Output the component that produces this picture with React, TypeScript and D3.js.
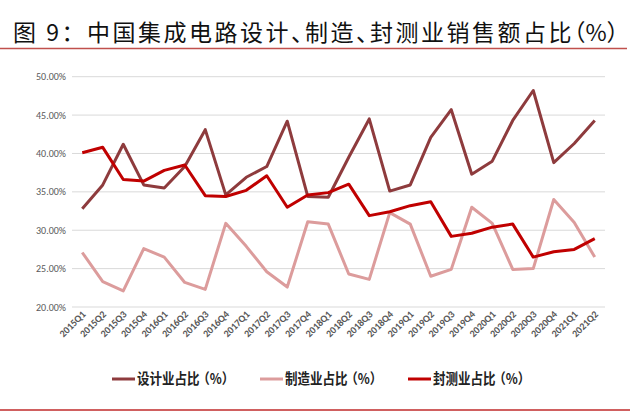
import * as React from 'react';
import * as d3 from 'd3';

const quarters = [
	'2015Q1', '2015Q2', '2015Q3', '2015Q4', '2016Q1', '2016Q2', '2016Q3', '2016Q4',
	'2017Q1', '2017Q2', '2017Q3', '2017Q4', '2018Q1', '2018Q2', '2018Q3', '2018Q4',
	'2019Q1', '2019Q2', '2019Q3', '2019Q4', '2020Q1', '2020Q2', '2020Q3', '2020Q4',
	'2021Q1', '2021Q2',
];

const design = [
	32.8, 35.9, 41.2, 35.9, 35.5, 38.3, 43.1, 34.6, 36.9, 38.3, 44.2, 34.4, 34.3,
	39.5, 44.5, 35.1, 35.9, 42.1, 45.7, 37.3, 39.0, 44.3, 48.2, 38.8, 41.3, 44.3,
];
const manufacturing = [
	27.1, 23.3, 22.1, 27.6, 26.5, 23.2, 22.3, 30.9, 27.9, 24.6, 22.6, 31.1, 30.8,
	24.3, 23.6, 32.3, 30.8, 24.0, 24.9, 33.0, 30.9, 24.9, 25.0, 34.0, 31.0, 26.5,
];
const packaging = [
	40.1, 40.8, 36.6, 36.4, 37.8, 38.5, 34.5, 34.4, 35.2, 37.1, 33.0, 34.6, 34.9,
	36.0, 31.9, 32.4, 33.2, 33.7, 29.2, 29.6, 30.4, 30.8, 26.5, 27.2, 27.5, 28.9,
];

const yTicks = [20, 25, 30, 35, 40, 45, 50];

const series = [
	{ name: '设计业占比', values: design, color: '#8e3b3d' },
	{ name: '制造业占比', values: manufacturing, color: '#dc9c9c' },
	{ name: '封测业占比', values: packaging, color: '#c00000' },
];

const W = 640;
const H = 416;
const cjk = '"Noto Sans CJK SC", "Noto Sans", sans-serif';
const latin = 'Carlito, "Liberation Sans", Arial, sans-serif';
const halt = { fontFeatureSettings: '"halt"' };

export default function App() {
	const x = d3.scaleBand<string>().domain(quarters).range([72, 605]).padding(0);
	const y = d3.scaleLinear().domain([20, 50]).range([307, 76.7]);
	const cx = (q: string) => (x(q) ?? 0) + x.bandwidth() / 2;

	const line = d3
		.line<number>()
		.x((_, i) => cx(quarters[i]))
		.y(d => y(d));

	const legendX = [112, 260, 408];

	return (
		<svg width={W} height={H} style={{ position: 'absolute', left: 0, top: 0, background: '#fff' }}>
			<text x={13} y={41} fontFamily={cjk} fontSize={23} letterSpacing={2.5} fill='#111'>
				图 9：
				<tspan>中国集成电路设计</tspan>
				<tspan style={halt}>、</tspan>
				<tspan>制造</tspan>
				<tspan style={halt}>、</tspan>
				<tspan>封测业销售额占比</tspan>
				<tspan style={halt} letterSpacing={0}>（%）</tspan>
			</text>
			<line x1={0} x2={627} y1={48.5} y2={48.5} stroke='#c0504d' strokeWidth={1.5} />

			{yTicks.map(t => (
				<g key={t}>
					<line x1={72} x2={605} y1={y(t)} y2={y(t)} stroke='#d9d9d9' strokeWidth={1} />
					<text
						x={66}
						y={y(t)}
						dy='0.35em'
						textAnchor='end'
						fontFamily={latin}
						fontSize={10}
						fill='#595959'
					>
						{t.toFixed(2)}%
					</text>
				</g>
			))}

			{quarters.map(q => (
				<text
					key={q}
					transform={`translate(${cx(q) + 4},${315}) rotate(-45)`}
					textAnchor='end'
					fontFamily={latin}
					fontSize={10}
					fontWeight={700}
					fill='#595959'
				>
					{q}
				</text>
			))}

			{series.map(s => (
				<path
					key={s.name}
					d={line(s.values) ?? ''}
					fill='none'
					stroke={s.color}
					strokeWidth={3}
					strokeLinejoin='round'
				/>
			))}

			{series.map((s, i) => (
				<g key={s.name} transform={`translate(${legendX[i]},379)`}>
					<line x1={0} x2={23} y1={0} y2={0} stroke={s.color} strokeWidth={3} />
					<text
						transform='translate(25,0) scale(1,1.15)'
						dy='0.36em'
						fontFamily={cjk}
						fontSize={12.5}
						fontWeight={700}
						fill='#222'
					>
						{s.name}
						<tspan dx={4} style={halt}>（%）</tspan>
					</text>
				</g>
			))}

			<line x1={0} x2={630} y1={410} y2={410} stroke='#d06060' strokeWidth={2} />
		</svg>
	);
}
